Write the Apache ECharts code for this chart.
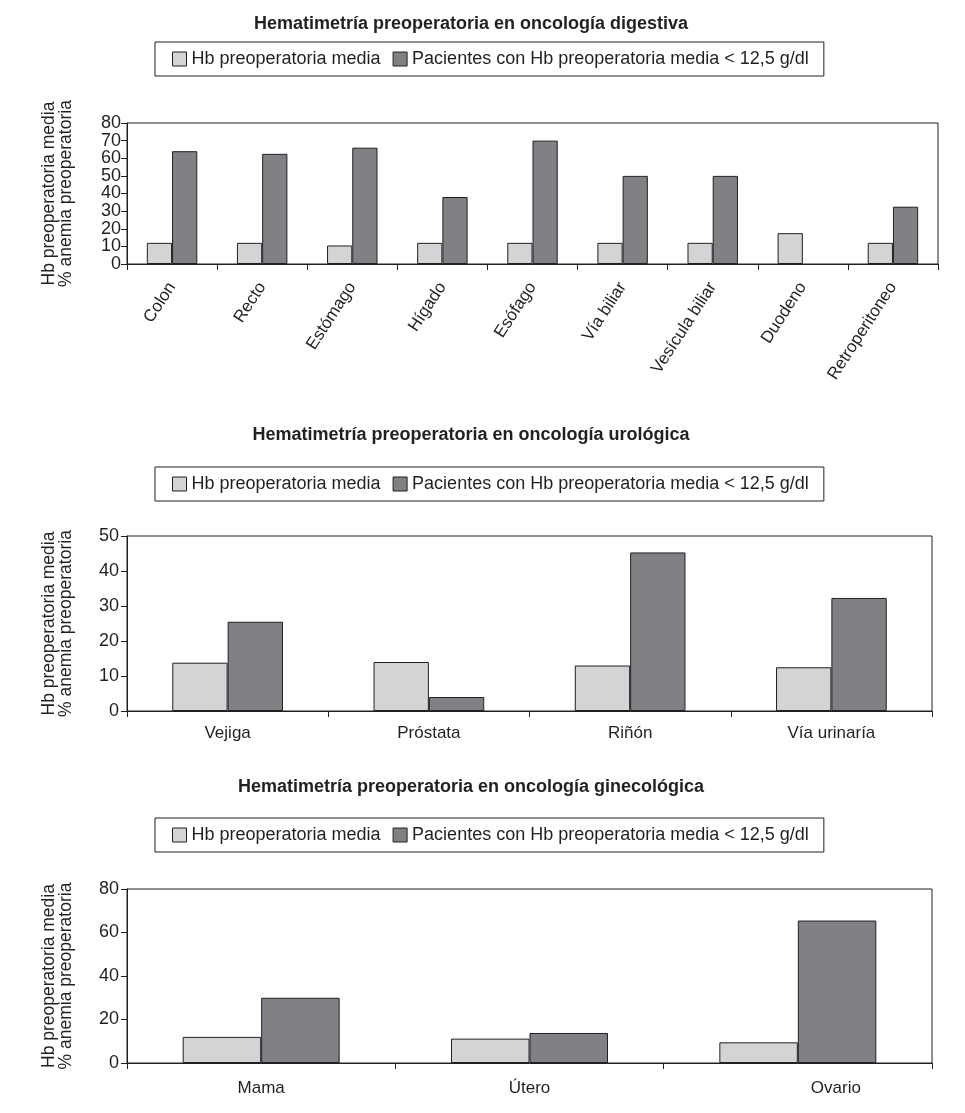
<!DOCTYPE html>
<html><head><meta charset="utf-8">
<script src="https://cdn.jsdelivr.net/npm/echarts@6.0.0/dist/echarts.min.js"></script>
<style>html,body{margin:0;padding:0;background:#fff}#c{width:965px;height:1113px}</style>
</head><body><div id="c"></div>
<script>
const seriesNames = ['Hb preoperatoria media', 'Pacientes con Hb preoperatoria media < 12,5 g/dl'];
const titles = ['Hematimetría preoperatoria en oncología digestiva', 'Hematimetría preoperatoria en oncología urológica', 'Hematimetría preoperatoria en oncología ginecológica'];
const yAxisName = 'Hb preoperatoria media\n% anemia preoperatoria';

const digCats = ['Colon', 'Recto', 'Estómago', 'Hígado', 'Esófago', 'Vía biliar', 'Vesícula biliar', 'Duodeno', 'Retroperitoneo'];
const digHb = [12, 12, 10.5, 12, 12, 12, 12, 17.5, 12];
const digPct = [64, 62.5, 66, 38, 70, 50, 50, null, 32.5];
const digTicks = [0, 10, 20, 30, 40, 50, 60, 70, 80];

const uroCats = ['Vejiga', 'Próstata', 'Riñón', 'Vía urinaría'];
const uroHb = [13.8, 14, 13, 12.5];
const uroPct = [25.5, 4, 45.3, 32.3];
const uroTicks = [0, 10, 20, 30, 40, 50];

const ginCats = ['Mama', 'Útero', 'Ovario'];
const ginHb = [12, 11.2, 9.5];
const ginPct = [30, 13.8, 65.5];
const ginTicks = [0, 20, 40, 60, 80];

const INK = '#231f20';
const LIGHT = '#d3d4d6';
const DARK = '#808184';
const FONT = '"Liberation Sans", Arial, sans-serif';

const layout = [
  {title: 10, legend: 42, grid: {left: 127, top: 123, width: 811, height: 141}, rotate: 57, gap: '44%', margin: 20, dense: true, yMargin: 6},
  {title: 421, legend: 467, grid: {left: 127, top: 536, width: 805, height: 175}, rotate: 0, gap: '45%', margin: 14, dense: false, yMargin: 8},
  {title: 773, legend: 818, grid: {left: 127, top: 889, width: 805, height: 174}, rotate: 0, gap: '41.5%', margin: 17, dense: false, yMargin: 8}
];
const sets = [
  {cats: digCats, hb: digHb, pct: digPct, ticks: digTicks},
  {cats: uroCats, hb: uroHb, pct: uroPct, ticks: uroTicks},
  {cats: ginCats, hb: ginHb, pct: ginPct, ticks: ginTicks}
];

const option = {
  animation: false,
  backgroundColor: '#fff',
  textStyle: {fontFamily: FONT, color: INK},
  title: [], legend: [], grid: [], xAxis: [], yAxis: [], series: []
};
const extraAxes = [];

sets.forEach((s, i) => {
  const L = layout[i];
  option.title.push({
    text: titles[i], left: 466, top: L.title, textAlign: 'center',
    textStyle: {fontFamily: FONT, fontSize: 18, fontWeight: 'bold', color: INK}
  });
  option.legend.push({
    data: seriesNames, left: 155, top: L.legend, icon: 'rect', itemWidth: 14, itemHeight: 14,
    itemGap: 12, selectedMode: false, borderColor: INK, borderWidth: 1, borderRadius: 0,
    padding: [8, 15, 8, 17],
    itemStyle: {borderWidth: 1, borderColor: INK},
    textStyle: {fontFamily: FONT, fontSize: 18, color: INK}
  });
  option.grid.push(Object.assign({show: true, borderColor: INK, borderWidth: 1, containLabel: false}, L.grid));
  const xLabel = {color: INK, fontFamily: FONT, fontSize: 17, rotate: L.rotate, margin: L.margin, interval: 0};
  if (i === 2) {
    xLabel.formatter = (v) => v === ginCats[2] ? '{shift|' + v + '}' : v;
    xLabel.rich = {shift: {fontFamily: FONT, fontSize: 17, color: INK, padding: [0, 0, 0, 76]}};
  }
  option.xAxis.push({
    type: 'category', gridIndex: i, data: s.cats,
    axisLine: {lineStyle: {color: INK, width: 1}},
    axisTick: {show: true, length: 6, lineStyle: {color: INK}},
    axisLabel: xLabel
  });
  const maxV = s.ticks[s.ticks.length - 1];
  const step = s.ticks[1] - s.ticks[0];
  const yLabel = {color: INK, fontFamily: FONT, fontSize: 18, margin: L.yMargin,
    showMinLabel: true, showMaxLabel: true, hideOverlap: false};
  if (L.dense) {
    // even-indexed tick labels on this axis, odd-indexed ones on an overlaid label-only axis
    yLabel.formatter = (v) => (s.ticks.indexOf(v) % 2 === 0 ? String(v) : '');
    extraAxes.push({
      type: 'value', gridIndex: i, position: 'left', min: s.ticks[0], max: maxV, interval: step,
      axisLine: {show: false}, axisTick: {show: false}, splitLine: {show: false},
      axisLabel: {color: INK, fontFamily: FONT, fontSize: 18, margin: L.yMargin,
        showMinLabel: true, showMaxLabel: true, hideOverlap: false,
        formatter: (v) => (s.ticks.indexOf(v) % 2 === 1 ? String(v) : '')}
    });
  }
  option.yAxis.push({
    type: 'value', gridIndex: i, min: s.ticks[0], max: maxV, interval: step,
    axisLine: {show: true, lineStyle: {color: INK, width: 1}},
    axisTick: {show: true, length: 6, lineStyle: {color: INK}},
    splitLine: {show: false},
    axisLabel: yLabel,
    name: yAxisName, nameLocation: 'middle', nameRotate: 90, nameGap: 52,
    nameTextStyle: {fontFamily: FONT, fontSize: 17.5, color: INK, lineHeight: 17}
  });
  [s.hb, s.pct].forEach((d, k) => {
    option.series.push({
      type: 'bar', name: seriesNames[k], xAxisIndex: i, yAxisIndex: i, data: d,
      barGap: '0%', barCategoryGap: L.gap,
      itemStyle: {color: k === 0 ? LIGHT : DARK, borderColor: INK, borderWidth: 1}
    });
  });
});
option.yAxis = option.yAxis.concat(extraAxes);

const chart = echarts.init(document.getElementById('c'), null, {renderer: 'canvas'});
chart.setOption(option);
</script>
</body></html>
